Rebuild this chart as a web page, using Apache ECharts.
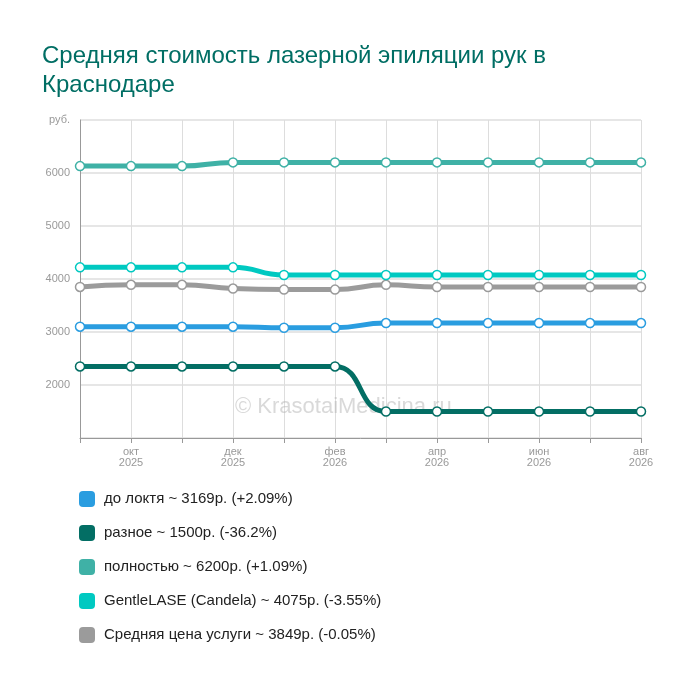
<!DOCTYPE html>
<html>
<head>
<meta charset="UTF-8"/>
<title></title>
<script src="https://cdn.jsdelivr.net/npm/echarts@6/dist/echarts.min.js"></script>
<style>body{margin:0;background:#fff}#chart{width:700px;height:684px}</style>
</head>
<body>
<div id="chart"></div>
<script>
var months = ['сен\n2025','окт\n2025','ноя\n2025','дек\n2025','янв\n2026','фев\n2026','мар\n2026','апр\n2026','май\n2026','июн\n2026','июл\n2026','авг\n2026'];
var doLoktya = [3100,3100,3100,3100,3080,3080,3169,3169,3169,3169,3169,3169];
var raznoe = [2350,2350,2350,2350,2350,2350,1500,1500,1500,1500,1500,1500];
var polnostyu = [6130,6130,6130,6200,6200,6200,6200,6200,6200,6200,6200,6200];
var gentle = [4220,4220,4220,4220,4075,4075,4075,4075,4075,4075,4075,4075];
var srednyaya = [3850,3890,3890,3820,3800,3800,3890,3849,3849,3849,3849,3849];
var names = ['до локтя ~ 3169р. (+2.09%)','разное ~ 1500р. (-36.2%)','полностью ~ 6200р. (+1.09%)','GentleLASE (Candela) ~ 4075р. (-3.55%)','Средняя цена услуги ~ 3849р. (-0.05%)'];
var colors = ['#2a9de0','#036e64','#3fb1a6','#00c9c1','#9b9b9b'];
var data = [doLoktya, raznoe, polnostyu, gentle, srednyaya];

var chart = echarts.init(document.getElementById('chart'));
var series = data.map(function (d, i) {
  return {
    name: names[i], type: 'line', smooth: 0.5, data: d,
    symbol: 'circle', symbolSize: 9,
    lineStyle: {width: 5, color: colors[i]},
    itemStyle: {color: '#fff', borderColor: colors[i], borderWidth: 1.5},
    z: 10 - i
  };
});
chart.setOption({
  animation: false,
  color: colors,
  title: {
    text: 'Средняя стоимость лазерной эпиляции рук в\nКраснодаре',
    left: 37, top: 37,
    textStyle: {color: '#006e64', fontSize: 24, fontWeight: 'normal', fontFamily: 'Liberation Sans', lineHeight: 29}
  },
  graphic: [{
    type: 'text', left: 235, top: 396, z: 1,
    style: {text: '© KrasotaiMedicina.ru', fontSize: 22, fill: 'rgba(180,180,180,0.5)', fontFamily: 'Liberation Sans'}
  }],
  grid: {left: 80, right: 59, top: 120, bottom: 246},
  legend: {
    orient: 'vertical', left: 74, top: 486, itemGap: 18,
    itemWidth: 16, itemHeight: 16, icon: 'roundRect',
    textStyle: {fontSize: 15, color: '#222', fontFamily: 'Liberation Sans', padding: [0,0,0,4]},
    data: names.map(function (n, i) { return {name: n, itemStyle: {color: colors[i], borderWidth: 0}}; })
  },
  xAxis: {
    type: 'category', boundaryGap: false, data: months,
    axisLine: {lineStyle: {color: '#999'}},
    axisTick: {interval: 0, alignWithLabel: true, lineStyle: {color: '#999'}},
    axisLabel: {interval: function (i) { return i % 2 === 1; }, color: '#999', fontSize: 11, lineHeight: 11, fontFamily: 'Liberation Sans'},
    splitLine: {show: true, interval: 0, lineStyle: {color: '#ddd'}}
  },
  yAxis: {
    type: 'value', min: 1000, max: 7000, interval: 1000,
    axisLine: {show: true, lineStyle: {color: '#999'}},
    axisTick: {show: false},
    axisLabel: {color: '#999', fontSize: 11, margin: 10, fontFamily: 'Liberation Sans',
      formatter: function (v) { return v === 1000 ? '' : v === 7000 ? 'руб.' : v; }},
    splitLine: {lineStyle: {color: '#e6e6e6', width: 2}}
  },
  series: series
});
</script>
</body>
</html>
